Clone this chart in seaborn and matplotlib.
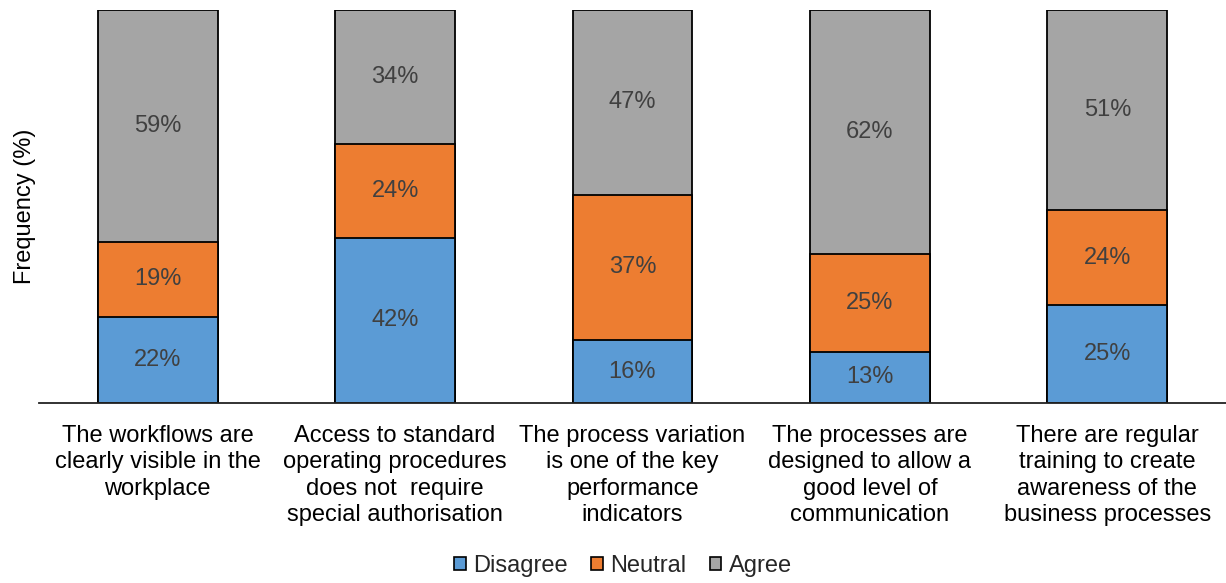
import matplotlib
matplotlib.use("Agg")
import matplotlib.pyplot as plt
import seaborn as sns
import numpy as np
import pandas as pd
from matplotlib.patches import Patch

statements = [
    "The workflows are\nclearly visible in the\nworkplace",
    "Access to standard\noperating procedures\ndoes not  require\nspecial authorisation",
    "The process variation\nis one of the key\nperformance\nindicators",
    "The processes are\ndesigned to allow a\ngood level of\ncommunication",
    "There are regular\ntraining to create\nawareness of the\nbusiness processes",
]
disagree = [22, 42, 16, 13, 25]
neutral = [19, 24, 37, 25, 24]
agree = [59, 34, 47, 62, 51]

series_names = ["Disagree", "Neutral", "Agree"]
colors = ["#5B9BD5", "#ED7D31", "#A5A5A5"]

sns.set_theme(style="white")
plt.rcParams["font.family"] = ["Liberation Sans", "DejaVu Sans"]

FS = 17

fig = plt.figure(figsize=(12.26, 5.83), dpi=100)
ax = fig.add_axes([39 / 1226, 1 - 403 / 583, 1 - 39 / 1226, (403 - 10) / 583])

df = pd.DataFrame({"statement": statements, "Disagree": disagree,
                   "Neutral": neutral, "Agree": agree})
df["c1"] = df["Disagree"]
df["c2"] = df["Disagree"] + df["Neutral"]
df["c3"] = df["c2"] + df["Agree"]

# Stack by drawing cumulative totals from the tallest down
for col, color in zip(["c3", "c2", "c1"], colors[::-1]):
    sns.barplot(data=df, x="statement", y=col, color=color, width=0.505,
                edgecolor="black", linewidth=1.3, saturation=1, ax=ax)

# Segment value labels
for i in range(len(statements)):
    bottom = 0
    for vals in (disagree, neutral, agree):
        v = vals[i]
        ax.text(i, bottom + v / 2, f"{v}%", ha="center", va="center",
                fontsize=FS, color="#404040")
        bottom += v

ax.set_xlim(-0.5, 4.5)
ax.set_ylim(0, 100)
ax.set_yticks([])
ax.set_xlabel("")
ax.set_ylabel("Frequency (%)", fontsize=FS, color="black", labelpad=2)
ax.tick_params(axis="x", length=0, pad=16, labelsize=FS, labelcolor="black")
for s in ["top", "right", "left"]:
    ax.spines[s].set_visible(False)
ax.spines["bottom"].set_color("#222222")
ax.spines["bottom"].set_linewidth(1.3)
for lbl in ax.get_xticklabels():
    lbl.set_linespacing(1.25)

handles = [Patch(facecolor=c, edgecolor="black", linewidth=1.2, label=n)
           for c, n in zip(colors, series_names)]
fig.legend(handles=handles, loc="center", bbox_to_anchor=(0.508, 1 - 566 / 583),
           ncol=3, frameon=False, fontsize=FS, handlelength=0.5, handleheight=0.5,
           handletextpad=0.3, columnspacing=1.0)

fig.savefig("out.png", dpi=100)
